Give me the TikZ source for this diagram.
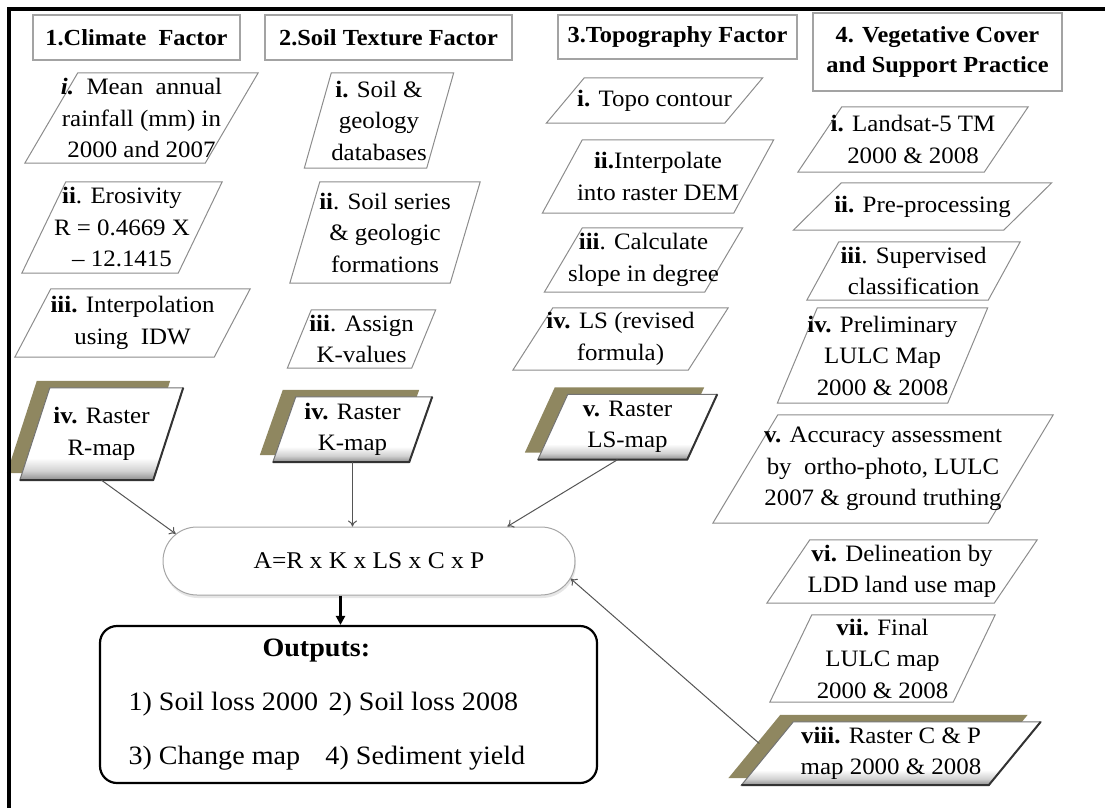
\documentclass[tikz,border=0pt]{standalone}
\usepackage{fontspec}
\setmainfont{Liberation Serif}[FakeStretch=1.06]
\usetikzlibrary{positioning,arrows.meta,shapes.misc,shadows,backgrounds}
\definecolor{rasterolive}{HTML}{8F8760}
\definecolor{edgegray}{HTML}{8C8C8C}
\definecolor{headgray}{HTML}{A3A3A3}
\definecolor{linkgray}{HTML}{555555}
\pgfdeclareverticalshading{rasterfill}{100bp}{color(0bp)=(black!45); color(25bp)=(black!45);
  color(30bp)=(black!18); color(37bp)=(white); color(100bp)=(white)}
\tikzset{
  dims/.style 2 args={minimum width=#1pt,minimum height=#2pt},
  head/.style  ={draw=headgray,line width=1.3pt,align=center,inner sep=0pt,
                 font=\fontsize{23}{30}\selectfont\bfseries},
  para/.style  ={align=center,inner sep=0pt,font=\fontsize{23.5}{31.5}\selectfont,
                 append after command={\pgfextra{
                   \draw[edgegray,line width=1pt]
                     ([xshift=-#1]\tikzlastnode.south west) -- ([xshift=-#1]\tikzlastnode.south east)
                     -- ([xshift=#1]\tikzlastnode.north east) -- ([xshift=#1]\tikzlastnode.north west) -- cycle;}}},
  raster/.style={align=center,inner sep=0pt,font=\fontsize{23.5}{31.5}\selectfont,
                 append after command={\pgfextra{
                   \begin{scope}[on background layer]
                     \fill[rasterolive]
                       ([xshift=-#1-13pt,yshift=7pt]\tikzlastnode.south west) -- ([xshift=-#1-13pt,yshift=7pt]\tikzlastnode.south east)
                       -- ([xshift=#1-13pt,yshift=7pt]\tikzlastnode.north east) -- ([xshift=#1-13pt,yshift=7pt]\tikzlastnode.north west) -- cycle;
                     \shadedraw[shading=rasterfill,draw=black!55,line width=1pt]
                       ([xshift=-#1]\tikzlastnode.south west) -- ([xshift=-#1]\tikzlastnode.south east)
                       -- ([xshift=#1]\tikzlastnode.north east) -- ([xshift=#1]\tikzlastnode.north west) -- cycle;
                     \draw[black!80,line width=2pt,line join=round]
                       ([xshift=#1]\tikzlastnode.north east) -- ([xshift=-#1]\tikzlastnode.south east) -- ([xshift=-#1]\tikzlastnode.south west);
                   \end{scope}}}},
  formula/.style={rounded rectangle,draw=black!35,line width=1pt,fill=white,inner sep=0pt,
                 font=\fontsize{24}{28}\selectfont,
                 drop shadow={opacity=0.2,shadow xshift=1pt,shadow yshift=-3pt}},
  outbox/.style={draw=black,line width=2.2pt,rounded corners=17pt,align=center,inner sep=0pt,
                 font=\fontsize{26.5}{54}\selectfont},
  link/.style  ={-{To[length=6pt,width=9pt]},line width=1pt,draw=linkgray},
  flow/.style  ={-{Triangle[length=9pt,width=9pt]},line width=2.4pt,draw=black},
  frame/.style ={line width=4pt,draw=black},
}

\begin{document}
\begin{tikzpicture}[x=1pt,y=-1pt]
  \useasboundingbox (0,0) rectangle (1105,808);
  \draw[frame] (9,808) -- (9,9) -- (1105,9);

  % factor headings
  \node[head,dims={207}{45}] (climate) at (136.5,37.5) {1.Climate\ \ Factor};
  \node[head,dims={247}{45}] (soil)    at (388.5,37.5) {2.Soil Texture Factor};
  \node[head,dims={239}{44}] (topo)    at (677.5,37)   {3.Topography Factor};
  \node[head,dims={249}{78}] (veg)     at (937.5,52)   {4. Vegetative Cover\\and Support Practice};

  % climate column
  \node[para=26.5pt,dims={180}{90}] (rain) at (141.5,118) {\textbf{\textit{i.}}\ \ Mean\ \ annual\\rainfall (mm) in\\2000 and 2007};
  \node[para=22pt,dims={156}{91}]   (eros) at (122,227.5) {\textbf{ii}. Erosivity\\R = 0.4669 X\\-- 12.1415};
  \node[para=18pt,dims={199}{68}]   (idw)  at (132.5,323) {\textbf{iii.} Interpolation\\using\ \ IDW};
  \node[raster=15pt,dims={133}{92}] (rmap) at (101.5,434) {\textbf{iv.} Raster\\R-map};

  % soil column
  \node[para=13.5pt,dims={122}{95}]   (soildb) at (379,120.5) {\textbf{i.} Soil \&\\geology\\databases};
  \node[para=15pt,dims={160}{101}]    (series) at (385,232.5) {\textbf{ii}. Soil series\\\& geologic\\formations};
  \node[para=12pt,dims={124}{58}]     (kval)   at (361.5,339) {\textbf{iii}. Assign\\K-values};
  \node[raster=11.5pt,dims={136}{65}] (kmap)   at (352.5,429.5) {\textbf{iv.} Raster\\K-map};

  % topography column
  \node[para=19pt,dims={178}{45}]   (contour) at (654.5,100.5) {\textbf{i.} Topo contour};
  \node[para=20pt,dims={191}{73}]   (dem)     at (658,176.5)   {\textbf{ii.}Interpolate\\into raster DEM};
  \node[para=19pt,dims={160}{64}]   (slope)   at (643.5,260)   {\textbf{iii}. Calculate\\slope in degree};
  \node[para=20pt,dims={175}{62}]   (lsform)  at (620.5,339)   {\textbf{iv.} LS (revised\\formula)};
  \node[raster=15pt,dims={149}{65}] (lsmap)   at (627.5,427)   {\textbf{v.} Raster\\LS-map};

  % vegetative cover column
  \node[para=22pt,dims={186}{65}]   (landsat) at (913,139.5)   {\textbf{i.} Landsat-5 TM\\2000 \& 2008};
  \node[para=24pt,dims={210}{47}]   (prep)    at (922.5,206.5) {\textbf{ii.} Pre-processing};
  \node[para=16pt,dims={181}{58}]   (superv)  at (913.5,271)   {\textbf{iii}. Supervised\\classification};
  \node[para=20pt,dims={170}{95}]   (prelim)  at (882.5,355.5) {\textbf{iv.} Preliminary\\LULC Map\\2000 \& 2008};
  \node[para=32.5pt,dims={275}{108}] (accur)  at (883,469)     {\textbf{v.} Accuracy assessment\\by\ \ ortho-photo, LULC\\2007 \& ground truthing};
  \node[para=21.5pt,dims={227}{63}] (ldd)     at (902,571.5)   {\textbf{vi.} Delineation by\\LDD land use map};
  \node[para=21pt,dims={183}{87}]   (final)   at (882.5,658.5) {\textbf{vii.} Final\\LULC map\\2000 \& 2008};
  \node[raster=26pt,dims={247}{63}] (cpmap)   at (891,753.5)   {\textbf{viii.} Raster C \& P\\map 2000 \& 2008};

  % soil loss equation and outputs
  \node[formula,dims={412}{68}] (usle) at (369,561) {A=R x K x LS x C x P};
  \node[outbox,dims={497}{157}] (outs) at (348.5,704.5)
    {\makebox[440pt][l]{\hspace{134pt}\textbf{Outputs:}}\\
     \makebox[440pt][l]{\makebox[200pt][l]{1) Soil loss 2000}2) Soil loss 2008}\\
     \makebox[440pt][l]{\makebox[197pt][l]{3) Change map}4) Sediment yield}};

  \draw[link] (rmap.south) -- (usle.172);
  \draw[link] (kmap.south) -- (kmap.south |- usle.north);
  \draw[link] ([xshift=-10pt]lsmap.south) -- (usle.14);
  \draw[link] ([xshift=-8pt,yshift=10pt]cpmap.west) -- (usle.-5);
  \draw[flow] ([xshift=-8pt]outs.north |- usle.south) -- ([xshift=-8pt]outs.north);
\end{tikzpicture}
\end{document}
